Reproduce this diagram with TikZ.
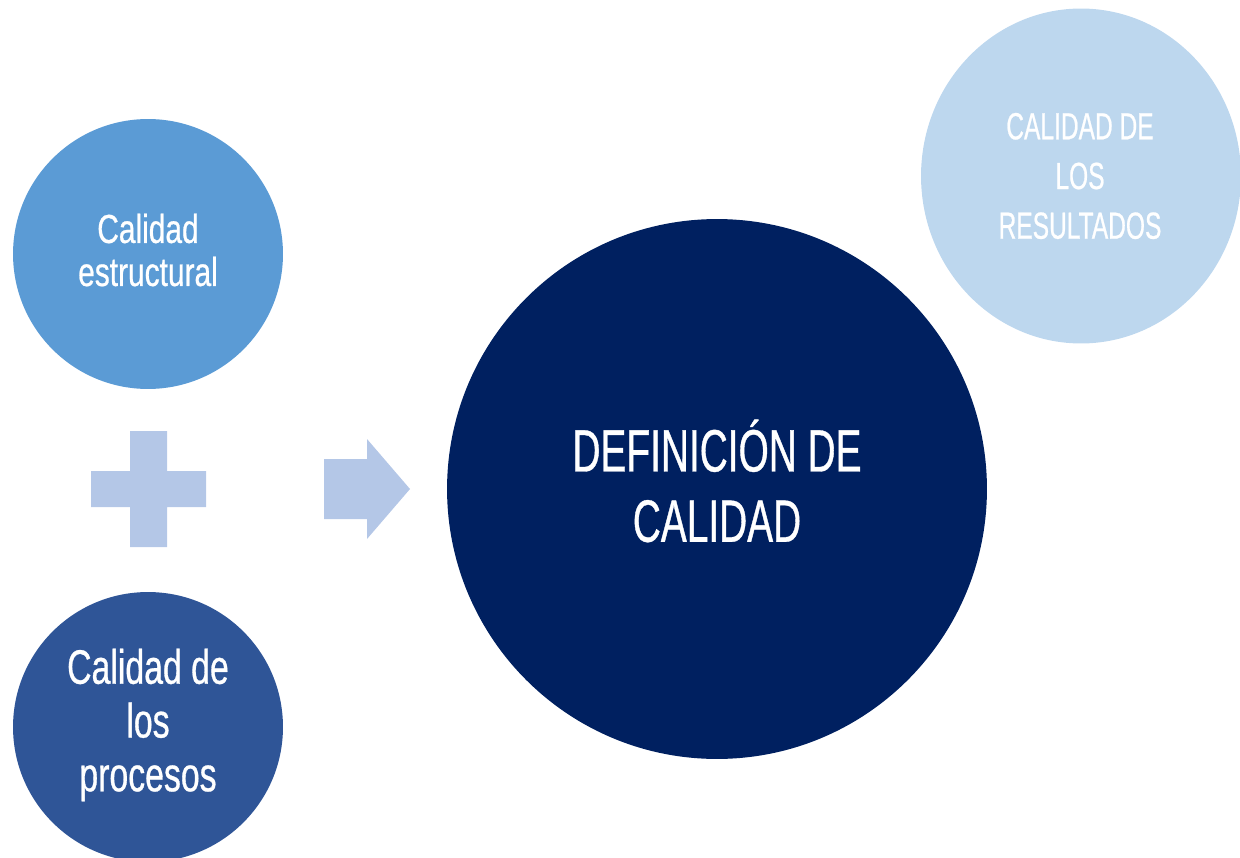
\documentclass[tikz,border=0pt]{standalone}
\usepackage{fontspec}
\setmainfont{Liberation Sans}[FakeStretch=0.65,FakeBold=0.6]
\newfontfamily\minusculas{Liberation Sans}[FakeStretch=0.74,FakeBold=0.6]
\newfontfamily\procesosletra{Liberation Sans}[FakeStretch=0.70,FakeBold=0.6]
\usetikzlibrary{shapes.geometric}
\definecolor{azulclaro}{HTML}{5B9BD5}
\definecolor{azulmedio}{HTML}{2F5597}
\definecolor{azuloscuro}{HTML}{002060}
\definecolor{azulpalido}{HTML}{BDD7EE}
\definecolor{azulsigno}{HTML}{B4C7E7}

\begin{document}
\begin{tikzpicture}[x=0.02cm,y=-0.02cm,
	circulo/.style={circle,inner sep=0pt,minimum size=5.4cm},
	texto/.style={text=white,align=center,inner sep=0pt},
	signo/.style={fill=azulsigno}]
	\clip (0,0) rectangle (1240,858);
	
	\node[circulo,fill=azulclaro] (estructural) at (148,254) {};
	\node[circulo,fill=azulmedio] (procesos) at (148,727) {};
	\node[circulo,fill=azuloscuro,minimum size=10.8cm] (definicion) at (717,489) {};
	\node[ellipse,inner sep=0pt,fill=azulpalido,minimum width=6.4cm,minimum height=6.7cm] (resultados) at (1081,176) {};
	
	\node[texto,font=\minusculas\fontsize{23}{24.5}\selectfont] (t-estructural) at (148,250) {Calidad\\estructural};
	\node[texto,font=\procesosletra\fontsize{27.5}{30.6}\selectfont] (t-procesos) at (148,725) {Calidad de\\los\\procesos};
	\node[texto,font=\fontsize{34}{40}\selectfont] (t-definicion) at (717,481) {DEFINICIÓN DE\\CALIDAD};
	\node[texto,font=\fontsize{21.5}{28.3}\selectfont] (t-resultados) at (1080,176) {CALIDAD DE\\LOS\\RESULTADOS};
	
	% signo mas
	\path[signo] (130,431) rectangle (167,547) (91,471) rectangle (206,507);
	% flecha
	\path[signo] (324,459) -- (367,459) -- (367,439) -- (410,489) -- (367,539) -- (367,519) -- (324,519) -- cycle;
\end{tikzpicture}
\end{document}
